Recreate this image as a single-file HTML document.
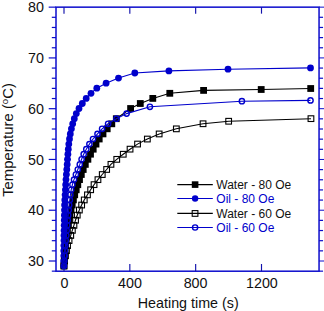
<!DOCTYPE html>
<html><head><meta charset="utf-8"><title>chart</title>
<style>
html,body{margin:0;padding:0;background:#fff;}
body{width:324px;height:311px;position:relative;overflow:hidden;font-family:"Liberation Sans",sans-serif;color:#111;}
.t{position:absolute;white-space:nowrap;font-size:14.3px;line-height:14px;}
.yl{width:40px;text-align:right;left:4px;}
.xl{width:60px;text-align:center;top:275.5px;margin-left:0.4px;}
.lg{font-size:12px;line-height:12px;left:216.3px;}
.b{color:#0000cc;}
</style></head><body>
<svg width="324" height="311" viewBox="0 0 324 311" style="position:absolute;left:0;top:0">
<rect width="324" height="311" fill="#fff"/>
<polyline fill="none" stroke="#000" stroke-width="1.1" points="64.0,265.9 64.3,260.9 64.7,255.8 65.1,250.7 65.6,245.6 66.1,240.5 66.7,235.5 67.4,230.4 68.1,225.3 68.9,220.2 69.9,215.2 71.0,210.1 72.2,205.0 73.4,199.9 74.7,194.8 76.2,189.8 77.8,184.7 79.5,179.6 81.3,174.5 83.2,169.5 85.3,164.4 87.9,159.3 90.5,154.2 93.2,149.2 96.0,144.1 99.2,139.0 103.0,133.9 107.2,128.8 111.8,123.8 116.3,118.7 130.6,108.5 140.3,103.5 152.8,98.4 169.8,93.3 203.6,90.4 261.2,89.5 310.7,88.5"/>
<rect x="60.6" y="262.5" width="6.8" height="6.8" fill="#000"/><rect x="60.9" y="257.5" width="6.8" height="6.8" fill="#000"/><rect x="61.3" y="252.4" width="6.8" height="6.8" fill="#000"/><rect x="61.7" y="247.3" width="6.8" height="6.8" fill="#000"/><rect x="62.2" y="242.2" width="6.8" height="6.8" fill="#000"/><rect x="62.7" y="237.1" width="6.8" height="6.8" fill="#000"/><rect x="63.3" y="232.1" width="6.8" height="6.8" fill="#000"/><rect x="64.0" y="227.0" width="6.8" height="6.8" fill="#000"/><rect x="64.7" y="221.9" width="6.8" height="6.8" fill="#000"/><rect x="65.5" y="216.8" width="6.8" height="6.8" fill="#000"/><rect x="66.5" y="211.8" width="6.8" height="6.8" fill="#000"/><rect x="67.6" y="206.7" width="6.8" height="6.8" fill="#000"/><rect x="68.8" y="201.6" width="6.8" height="6.8" fill="#000"/><rect x="70.0" y="196.5" width="6.8" height="6.8" fill="#000"/><rect x="71.3" y="191.4" width="6.8" height="6.8" fill="#000"/><rect x="72.8" y="186.4" width="6.8" height="6.8" fill="#000"/><rect x="74.4" y="181.3" width="6.8" height="6.8" fill="#000"/><rect x="76.1" y="176.2" width="6.8" height="6.8" fill="#000"/><rect x="77.9" y="171.1" width="6.8" height="6.8" fill="#000"/><rect x="79.8" y="166.1" width="6.8" height="6.8" fill="#000"/><rect x="81.9" y="161.0" width="6.8" height="6.8" fill="#000"/><rect x="84.5" y="155.9" width="6.8" height="6.8" fill="#000"/><rect x="87.1" y="150.8" width="6.8" height="6.8" fill="#000"/><rect x="89.8" y="145.8" width="6.8" height="6.8" fill="#000"/><rect x="92.6" y="140.7" width="6.8" height="6.8" fill="#000"/><rect x="95.8" y="135.6" width="6.8" height="6.8" fill="#000"/><rect x="99.6" y="130.5" width="6.8" height="6.8" fill="#000"/><rect x="103.8" y="125.4" width="6.8" height="6.8" fill="#000"/><rect x="108.4" y="120.4" width="6.8" height="6.8" fill="#000"/><rect x="112.9" y="115.3" width="6.8" height="6.8" fill="#000"/><rect x="127.2" y="105.1" width="6.8" height="6.8" fill="#000"/><rect x="136.9" y="100.1" width="6.8" height="6.8" fill="#000"/><rect x="149.4" y="95.0" width="6.8" height="6.8" fill="#000"/><rect x="166.4" y="89.9" width="6.8" height="6.8" fill="#000"/><rect x="200.2" y="87.0" width="6.8" height="6.8" fill="#000"/><rect x="257.8" y="86.1" width="6.8" height="6.8" fill="#000"/><rect x="307.3" y="85.1" width="6.8" height="6.8" fill="#000"/>
<polyline fill="none" stroke="#0000cc" stroke-width="1.1" points="63.7,265.9 63.7,260.9 63.8,255.8 63.8,250.7 63.9,245.6 64.0,240.5 64.0,235.5 64.1,230.4 64.2,225.3 64.3,220.2 64.4,215.2 64.5,210.1 64.6,205.0 64.8,199.9 65.1,194.8 65.4,189.8 65.7,184.7 66.0,179.6 66.4,174.5 66.8,169.5 67.2,164.4 67.5,159.3 67.9,154.2 68.3,149.2 68.8,144.1 69.5,139.0 70.3,133.9 71.4,128.8 72.7,123.8 74.3,118.7 76.3,113.6 79.0,108.5 82.3,103.5 86.2,98.4 91.0,93.3 96.8,88.2 106.1,83.2 118.5,78.1 134.8,73.0 168.9,70.9 228.0,69.2 310.5,67.9"/>
<circle cx="63.7" cy="265.9" r="3.4" fill="#0000cc"/><circle cx="63.7" cy="260.9" r="3.4" fill="#0000cc"/><circle cx="63.8" cy="255.8" r="3.4" fill="#0000cc"/><circle cx="63.8" cy="250.7" r="3.4" fill="#0000cc"/><circle cx="63.9" cy="245.6" r="3.4" fill="#0000cc"/><circle cx="64.0" cy="240.5" r="3.4" fill="#0000cc"/><circle cx="64.0" cy="235.5" r="3.4" fill="#0000cc"/><circle cx="64.1" cy="230.4" r="3.4" fill="#0000cc"/><circle cx="64.2" cy="225.3" r="3.4" fill="#0000cc"/><circle cx="64.3" cy="220.2" r="3.4" fill="#0000cc"/><circle cx="64.4" cy="215.2" r="3.4" fill="#0000cc"/><circle cx="64.5" cy="210.1" r="3.4" fill="#0000cc"/><circle cx="64.6" cy="205.0" r="3.4" fill="#0000cc"/><circle cx="64.8" cy="199.9" r="3.4" fill="#0000cc"/><circle cx="65.1" cy="194.8" r="3.4" fill="#0000cc"/><circle cx="65.4" cy="189.8" r="3.4" fill="#0000cc"/><circle cx="65.7" cy="184.7" r="3.4" fill="#0000cc"/><circle cx="66.0" cy="179.6" r="3.4" fill="#0000cc"/><circle cx="66.4" cy="174.5" r="3.4" fill="#0000cc"/><circle cx="66.8" cy="169.5" r="3.4" fill="#0000cc"/><circle cx="67.2" cy="164.4" r="3.4" fill="#0000cc"/><circle cx="67.5" cy="159.3" r="3.4" fill="#0000cc"/><circle cx="67.9" cy="154.2" r="3.4" fill="#0000cc"/><circle cx="68.3" cy="149.2" r="3.4" fill="#0000cc"/><circle cx="68.8" cy="144.1" r="3.4" fill="#0000cc"/><circle cx="69.5" cy="139.0" r="3.4" fill="#0000cc"/><circle cx="70.3" cy="133.9" r="3.4" fill="#0000cc"/><circle cx="71.4" cy="128.8" r="3.4" fill="#0000cc"/><circle cx="72.7" cy="123.8" r="3.4" fill="#0000cc"/><circle cx="74.3" cy="118.7" r="3.4" fill="#0000cc"/><circle cx="76.3" cy="113.6" r="3.4" fill="#0000cc"/><circle cx="79.0" cy="108.5" r="3.4" fill="#0000cc"/><circle cx="82.3" cy="103.5" r="3.4" fill="#0000cc"/><circle cx="86.2" cy="98.4" r="3.4" fill="#0000cc"/><circle cx="91.0" cy="93.3" r="3.4" fill="#0000cc"/><circle cx="96.8" cy="88.2" r="3.4" fill="#0000cc"/><circle cx="106.1" cy="83.2" r="3.4" fill="#0000cc"/><circle cx="118.5" cy="78.1" r="3.4" fill="#0000cc"/><circle cx="134.8" cy="73.0" r="3.4" fill="#0000cc"/><circle cx="168.9" cy="70.9" r="3.4" fill="#0000cc"/><circle cx="228.0" cy="69.2" r="3.4" fill="#0000cc"/><circle cx="310.5" cy="67.9" r="3.4" fill="#0000cc"/>
<polyline fill="none" stroke="#000" stroke-width="1.1" points="64.0,265.9 64.6,260.9 65.4,255.8 66.4,250.7 67.5,245.6 69.0,240.5 70.7,235.5 72.3,230.4 73.9,225.3 75.5,220.2 77.2,215.2 79.3,210.1 81.6,205.0 84.2,199.9 87.4,194.8 90.6,189.8 94.0,184.7 97.9,179.6 102.2,174.5 106.6,169.5 110.9,164.4 116.7,159.3 123.2,154.2 130.0,149.2 137.5,144.1 147.3,139.0 159.2,133.9 176.3,128.8 203.0,123.8 228.7,121.2 311.0,118.7"/>
<rect x="61.1" y="263.1" width="5.7" height="5.7" fill="none" stroke="#000" stroke-width="1.1"/><rect x="61.7" y="258.0" width="5.7" height="5.7" fill="none" stroke="#000" stroke-width="1.1"/><rect x="62.6" y="252.9" width="5.7" height="5.7" fill="none" stroke="#000" stroke-width="1.1"/><rect x="63.6" y="247.8" width="5.7" height="5.7" fill="none" stroke="#000" stroke-width="1.1"/><rect x="64.7" y="242.8" width="5.7" height="5.7" fill="none" stroke="#000" stroke-width="1.1"/><rect x="66.2" y="237.7" width="5.7" height="5.7" fill="none" stroke="#000" stroke-width="1.1"/><rect x="67.9" y="232.6" width="5.7" height="5.7" fill="none" stroke="#000" stroke-width="1.1"/><rect x="69.5" y="227.5" width="5.7" height="5.7" fill="none" stroke="#000" stroke-width="1.1"/><rect x="71.1" y="222.5" width="5.7" height="5.7" fill="none" stroke="#000" stroke-width="1.1"/><rect x="72.7" y="217.4" width="5.7" height="5.7" fill="none" stroke="#000" stroke-width="1.1"/><rect x="74.4" y="212.3" width="5.7" height="5.7" fill="none" stroke="#000" stroke-width="1.1"/><rect x="76.5" y="207.2" width="5.7" height="5.7" fill="none" stroke="#000" stroke-width="1.1"/><rect x="78.8" y="202.2" width="5.7" height="5.7" fill="none" stroke="#000" stroke-width="1.1"/><rect x="81.4" y="197.1" width="5.7" height="5.7" fill="none" stroke="#000" stroke-width="1.1"/><rect x="84.6" y="192.0" width="5.7" height="5.7" fill="none" stroke="#000" stroke-width="1.1"/><rect x="87.8" y="186.9" width="5.7" height="5.7" fill="none" stroke="#000" stroke-width="1.1"/><rect x="91.2" y="181.8" width="5.7" height="5.7" fill="none" stroke="#000" stroke-width="1.1"/><rect x="95.1" y="176.8" width="5.7" height="5.7" fill="none" stroke="#000" stroke-width="1.1"/><rect x="99.4" y="171.7" width="5.7" height="5.7" fill="none" stroke="#000" stroke-width="1.1"/><rect x="103.8" y="166.6" width="5.7" height="5.7" fill="none" stroke="#000" stroke-width="1.1"/><rect x="108.1" y="161.5" width="5.7" height="5.7" fill="none" stroke="#000" stroke-width="1.1"/><rect x="113.9" y="156.5" width="5.7" height="5.7" fill="none" stroke="#000" stroke-width="1.1"/><rect x="120.4" y="151.4" width="5.7" height="5.7" fill="none" stroke="#000" stroke-width="1.1"/><rect x="127.2" y="146.3" width="5.7" height="5.7" fill="none" stroke="#000" stroke-width="1.1"/><rect x="134.7" y="141.2" width="5.7" height="5.7" fill="none" stroke="#000" stroke-width="1.1"/><rect x="144.5" y="136.2" width="5.7" height="5.7" fill="none" stroke="#000" stroke-width="1.1"/><rect x="156.3" y="131.1" width="5.7" height="5.7" fill="none" stroke="#000" stroke-width="1.1"/><rect x="173.5" y="126.0" width="5.7" height="5.7" fill="none" stroke="#000" stroke-width="1.1"/><rect x="200.2" y="120.9" width="5.7" height="5.7" fill="none" stroke="#000" stroke-width="1.1"/><rect x="225.8" y="118.4" width="5.7" height="5.7" fill="none" stroke="#000" stroke-width="1.1"/><rect x="308.1" y="115.8" width="5.7" height="5.7" fill="none" stroke="#000" stroke-width="1.1"/>
<polyline fill="none" stroke="#0000cc" stroke-width="1.1" points="64.0,265.9 64.3,260.9 64.7,255.8 65.0,250.7 65.4,245.6 65.8,240.5 66.3,235.5 66.7,230.4 67.2,225.3 67.7,220.2 68.2,215.2 68.7,210.1 69.2,205.0 69.8,199.9 70.4,194.8 71.2,189.8 72.4,184.7 74.0,179.6 75.9,174.5 77.8,169.5 79.8,164.4 81.6,159.3 83.7,154.2 86.3,149.2 89.4,144.1 93.0,139.0 97.5,133.9 102.1,128.8 108.1,123.8 116.4,118.7 126.6,113.6 149.9,106.8 241.9,101.2 310.5,100.4"/>
<circle cx="64.0" cy="265.9" r="2.65" fill="none" stroke="#0000cc" stroke-width="1.4"/><circle cx="64.3" cy="260.9" r="2.65" fill="none" stroke="#0000cc" stroke-width="1.4"/><circle cx="64.7" cy="255.8" r="2.65" fill="none" stroke="#0000cc" stroke-width="1.4"/><circle cx="65.0" cy="250.7" r="2.65" fill="none" stroke="#0000cc" stroke-width="1.4"/><circle cx="65.4" cy="245.6" r="2.65" fill="none" stroke="#0000cc" stroke-width="1.4"/><circle cx="65.8" cy="240.5" r="2.65" fill="none" stroke="#0000cc" stroke-width="1.4"/><circle cx="66.3" cy="235.5" r="2.65" fill="none" stroke="#0000cc" stroke-width="1.4"/><circle cx="66.7" cy="230.4" r="2.65" fill="none" stroke="#0000cc" stroke-width="1.4"/><circle cx="67.2" cy="225.3" r="2.65" fill="none" stroke="#0000cc" stroke-width="1.4"/><circle cx="67.7" cy="220.2" r="2.65" fill="none" stroke="#0000cc" stroke-width="1.4"/><circle cx="68.2" cy="215.2" r="2.65" fill="none" stroke="#0000cc" stroke-width="1.4"/><circle cx="68.7" cy="210.1" r="2.65" fill="none" stroke="#0000cc" stroke-width="1.4"/><circle cx="69.2" cy="205.0" r="2.65" fill="none" stroke="#0000cc" stroke-width="1.4"/><circle cx="69.8" cy="199.9" r="2.65" fill="none" stroke="#0000cc" stroke-width="1.4"/><circle cx="70.4" cy="194.8" r="2.65" fill="none" stroke="#0000cc" stroke-width="1.4"/><circle cx="71.2" cy="189.8" r="2.65" fill="none" stroke="#0000cc" stroke-width="1.4"/><circle cx="72.4" cy="184.7" r="2.65" fill="none" stroke="#0000cc" stroke-width="1.4"/><circle cx="74.0" cy="179.6" r="2.65" fill="none" stroke="#0000cc" stroke-width="1.4"/><circle cx="75.9" cy="174.5" r="2.65" fill="none" stroke="#0000cc" stroke-width="1.4"/><circle cx="77.8" cy="169.5" r="2.65" fill="none" stroke="#0000cc" stroke-width="1.4"/><circle cx="79.8" cy="164.4" r="2.65" fill="none" stroke="#0000cc" stroke-width="1.4"/><circle cx="81.6" cy="159.3" r="2.65" fill="none" stroke="#0000cc" stroke-width="1.4"/><circle cx="83.7" cy="154.2" r="2.65" fill="none" stroke="#0000cc" stroke-width="1.4"/><circle cx="86.3" cy="149.2" r="2.65" fill="none" stroke="#0000cc" stroke-width="1.4"/><circle cx="89.4" cy="144.1" r="2.65" fill="none" stroke="#0000cc" stroke-width="1.4"/><circle cx="93.0" cy="139.0" r="2.65" fill="none" stroke="#0000cc" stroke-width="1.4"/><circle cx="97.5" cy="133.9" r="2.65" fill="none" stroke="#0000cc" stroke-width="1.4"/><circle cx="102.1" cy="128.8" r="2.65" fill="none" stroke="#0000cc" stroke-width="1.4"/><circle cx="108.1" cy="123.8" r="2.65" fill="none" stroke="#0000cc" stroke-width="1.4"/><circle cx="116.4" cy="118.7" r="2.65" fill="none" stroke="#0000cc" stroke-width="1.4"/><circle cx="126.6" cy="113.6" r="2.65" fill="none" stroke="#0000cc" stroke-width="1.4"/><circle cx="149.9" cy="106.8" r="2.65" fill="none" stroke="#0000cc" stroke-width="1.4"/><circle cx="241.9" cy="101.2" r="2.65" fill="none" stroke="#0000cc" stroke-width="1.4"/><circle cx="310.5" cy="100.4" r="2.65" fill="none" stroke="#0000cc" stroke-width="1.4"/>
<g stroke="#0c0ccc" stroke-width="1.5" fill="none" stroke-linecap="butt"><rect x="56.0" y="7.15" width="263.05" height="264.05"/><line x1="51.8" y1="271.15" x2="56.0" y2="271.15" stroke-width="1.2"/><line x1="319.05" y1="271.15" x2="323.05" y2="271.15" stroke-width="1.2"/><line x1="48.7" y1="261.00" x2="56.0" y2="261.00" stroke-width="1.2"/><line x1="319.05" y1="261.00" x2="326.05" y2="261.00" stroke-width="1"/><line x1="51.8" y1="250.85" x2="56.0" y2="250.85" stroke-width="1.2"/><line x1="319.05" y1="250.85" x2="323.05" y2="250.85" stroke-width="1.2"/><line x1="51.8" y1="240.69" x2="56.0" y2="240.69" stroke-width="1.2"/><line x1="319.05" y1="240.69" x2="323.05" y2="240.69" stroke-width="1.2"/><line x1="51.8" y1="230.54" x2="56.0" y2="230.54" stroke-width="1.2"/><line x1="319.05" y1="230.54" x2="323.05" y2="230.54" stroke-width="1.2"/><line x1="51.8" y1="220.38" x2="56.0" y2="220.38" stroke-width="1.2"/><line x1="319.05" y1="220.38" x2="323.05" y2="220.38" stroke-width="1.2"/><line x1="48.7" y1="210.23" x2="56.0" y2="210.23" stroke-width="1.2"/><line x1="319.05" y1="210.23" x2="326.05" y2="210.23" stroke-width="1"/><line x1="51.8" y1="200.08" x2="56.0" y2="200.08" stroke-width="1.2"/><line x1="319.05" y1="200.08" x2="323.05" y2="200.08" stroke-width="1.2"/><line x1="51.8" y1="189.92" x2="56.0" y2="189.92" stroke-width="1.2"/><line x1="319.05" y1="189.92" x2="323.05" y2="189.92" stroke-width="1.2"/><line x1="51.8" y1="179.77" x2="56.0" y2="179.77" stroke-width="1.2"/><line x1="319.05" y1="179.77" x2="323.05" y2="179.77" stroke-width="1.2"/><line x1="51.8" y1="169.61" x2="56.0" y2="169.61" stroke-width="1.2"/><line x1="319.05" y1="169.61" x2="323.05" y2="169.61" stroke-width="1.2"/><line x1="48.7" y1="159.46" x2="56.0" y2="159.46" stroke-width="1.2"/><line x1="319.05" y1="159.46" x2="326.05" y2="159.46" stroke-width="1"/><line x1="51.8" y1="149.31" x2="56.0" y2="149.31" stroke-width="1.2"/><line x1="319.05" y1="149.31" x2="323.05" y2="149.31" stroke-width="1.2"/><line x1="51.8" y1="139.15" x2="56.0" y2="139.15" stroke-width="1.2"/><line x1="319.05" y1="139.15" x2="323.05" y2="139.15" stroke-width="1.2"/><line x1="51.8" y1="129.00" x2="56.0" y2="129.00" stroke-width="1.2"/><line x1="319.05" y1="129.00" x2="323.05" y2="129.00" stroke-width="1.2"/><line x1="51.8" y1="118.84" x2="56.0" y2="118.84" stroke-width="1.2"/><line x1="319.05" y1="118.84" x2="323.05" y2="118.84" stroke-width="1.2"/><line x1="48.7" y1="108.69" x2="56.0" y2="108.69" stroke-width="1.2"/><line x1="319.05" y1="108.69" x2="326.05" y2="108.69" stroke-width="1"/><line x1="51.8" y1="98.54" x2="56.0" y2="98.54" stroke-width="1.2"/><line x1="319.05" y1="98.54" x2="323.05" y2="98.54" stroke-width="1.2"/><line x1="51.8" y1="88.38" x2="56.0" y2="88.38" stroke-width="1.2"/><line x1="319.05" y1="88.38" x2="323.05" y2="88.38" stroke-width="1.2"/><line x1="51.8" y1="78.23" x2="56.0" y2="78.23" stroke-width="1.2"/><line x1="319.05" y1="78.23" x2="323.05" y2="78.23" stroke-width="1.2"/><line x1="51.8" y1="68.07" x2="56.0" y2="68.07" stroke-width="1.2"/><line x1="319.05" y1="68.07" x2="323.05" y2="68.07" stroke-width="1.2"/><line x1="48.7" y1="57.92" x2="56.0" y2="57.92" stroke-width="1.2"/><line x1="319.05" y1="57.92" x2="326.05" y2="57.92" stroke-width="1"/><line x1="51.8" y1="47.77" x2="56.0" y2="47.77" stroke-width="1.2"/><line x1="319.05" y1="47.77" x2="323.05" y2="47.77" stroke-width="1.2"/><line x1="51.8" y1="37.61" x2="56.0" y2="37.61" stroke-width="1.2"/><line x1="319.05" y1="37.61" x2="323.05" y2="37.61" stroke-width="1.2"/><line x1="51.8" y1="27.46" x2="56.0" y2="27.46" stroke-width="1.2"/><line x1="319.05" y1="27.46" x2="323.05" y2="27.46" stroke-width="1.2"/><line x1="51.8" y1="17.30" x2="56.0" y2="17.30" stroke-width="1.2"/><line x1="319.05" y1="17.30" x2="323.05" y2="17.30" stroke-width="1.2"/><line x1="48.7" y1="7.15" x2="56.0" y2="7.15" stroke-width="1.2"/><line x1="319.05" y1="7.15" x2="326.05" y2="7.15" stroke-width="1"/><line x1="64.00" y1="7.15" x2="64.00" y2="13.65" stroke="#1212ac" stroke-width="1.15"/><line x1="64.00" y1="271.2" x2="64.00" y2="264.0" stroke="#1212ac" stroke-width="1.15"/><line x1="129.83" y1="7.15" x2="129.83" y2="13.65" stroke="#1212ac" stroke-width="1.15"/><line x1="129.83" y1="271.2" x2="129.83" y2="264.0" stroke="#1212ac" stroke-width="1.15"/><line x1="195.66" y1="7.15" x2="195.66" y2="13.65" stroke="#1212ac" stroke-width="1.15"/><line x1="195.66" y1="271.2" x2="195.66" y2="264.0" stroke="#1212ac" stroke-width="1.15"/><line x1="261.50" y1="7.15" x2="261.50" y2="13.65" stroke="#1212ac" stroke-width="1.15"/><line x1="261.50" y1="271.2" x2="261.50" y2="264.0" stroke="#1212ac" stroke-width="1.15"/></g>
<line x1="177.3" y1="184.6" x2="212.8" y2="184.6" stroke="#000" stroke-width="1.1"/><line x1="177.3" y1="198.5" x2="212.8" y2="198.5" stroke="#0000cc" stroke-width="1.1"/><line x1="177.3" y1="213.4" x2="212.8" y2="213.4" stroke="#000" stroke-width="1.1"/><line x1="177.3" y1="227.5" x2="212.8" y2="227.5" stroke="#0000cc" stroke-width="1.1"/><rect x="191.8" y="181.3" width="6.6" height="6.6" fill="#000"/><circle cx="195.1" cy="198.5" r="3.2" fill="#0000cc"/><rect x="192.2" y="210.6" width="5.7" height="5.7" fill="none" stroke="#000" stroke-width="1.1"/><circle cx="195.1" cy="227.5" r="2.6" fill="none" stroke="#0000cc" stroke-width="1.4"/>
</svg>
<div class="t yl" style="top:0px">80</div>
<div class="t yl" style="top:51px">70</div>
<div class="t yl" style="top:102px">60</div>
<div class="t yl" style="top:153px">50</div>
<div class="t yl" style="top:203px">40</div>
<div class="t yl" style="top:254px">30</div>
<div class="t xl" style="left:34px">0</div>
<div class="t xl" style="left:99.6px">400</div>
<div class="t xl" style="left:165.2px">800</div>
<div class="t xl" style="left:231.5px">1200</div>
<div class="t" style="left:137.8px;top:295.5px">Heating time (s)</div>
<div class="t" id="ylab" style="left:9.4px;top:139.5px;font-size:14.9px;transform:translate(-50%,-50%) rotate(-90deg);">Temperature (<span style="font-size:9.5px;position:relative;top:-5px">o</span>C)</div>
<div class="t lg" style="top:178.5px">Water - 80 Oe</div>
<div class="t lg b" style="top:193px">Oil - 80 Oe</div>
<div class="t lg" style="top:207.5px">Water - 60 Oe</div>
<div class="t lg b" style="top:221.8px">Oil - 60 Oe</div>
</body></html>
